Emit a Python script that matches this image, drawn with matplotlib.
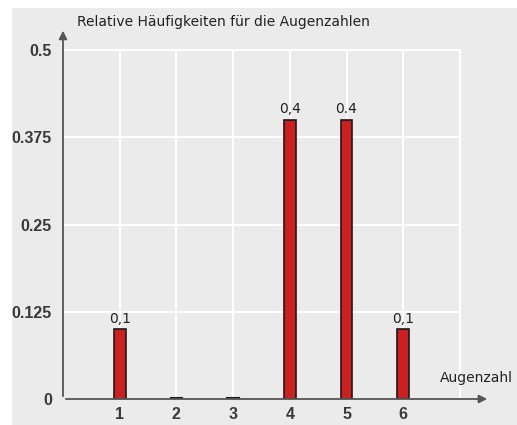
import matplotlib.pyplot as plt
from matplotlib.patches import Rectangle

# Daten
augenzahlen = [1, 2, 3, 4, 5, 6]
haeufigkeiten = [0.1, 0.0, 0.0, 0.4, 0.4, 0.1]
bar_labels = ['0,1', '', '', '0,4', '0.4', '0,1']
y_ticks = [0, 0.125, 0.25, 0.375, 0.5]
y_ticklabels = ['0', '0.125', '0.25', '0.375', '0.5']

plt.rcParams['font.family'] = ['DejaVu Sans']

fig = plt.figure(figsize=(5.17, 4.25), dpi=100)
fig.patch.set_facecolor('white')
# grauer Hintergrund
fig.patches.append(Rectangle((12 / 517, 0), 1, 1 - 8 / 425, transform=fig.transFigure,
                             facecolor='#ebebeb', edgecolor='none', zorder=-5))

ax = fig.add_axes([63 / 517, 1 - 399 / 425, 427 / 517, 369 / 425])
ax.set_facecolor('none')
ax.set_xlim(0, 7.53)
ax.set_ylim(0, 0.529)

# Gitter
for x in range(1, 8):
    ax.plot([x, x], [0, 0.5], color='white', lw=1.5, zorder=1)
for y in y_ticks[1:]:
    ax.plot([0, 7], [y, y], color='white', lw=1.5, zorder=1)

# Balken
ax.bar(augenzahlen, haeufigkeiten, width=0.21, color='#cc1f1f', edgecolor='#1a1a1a',
       linewidth=1.2, zorder=3)
for x, h, lab in zip(augenzahlen, haeufigkeiten, bar_labels):
    if h == 0:
        ax.plot([x - 0.1, x + 0.1], [0.001, 0.001], color='#1a1a1a', lw=1.5, zorder=3)
    if lab:
        ax.text(x, h + 0.005, lab, ha='center', va='bottom', fontsize=10, color='#222222')

# Achsen mit Pfeilen
ax.annotate('', xy=(7.53, 0), xytext=(0, 0),
            arrowprops=dict(arrowstyle='-|>', color='#555555', lw=1.3, mutation_scale=12),
            annotation_clip=False, zorder=4)
ax.annotate('', xy=(0, 0.532), xytext=(0, 0),
            arrowprops=dict(arrowstyle='-|>', color='#555555', lw=1.3, mutation_scale=12),
            annotation_clip=False, zorder=4)

for s in ax.spines.values():
    s.set_visible(False)

tick_font = dict(family='Liberation Sans', size=11.5, weight='bold')
ax.set_xticks(augenzahlen)
ax.set_xticklabels([str(a) for a in augenzahlen], fontdict=tick_font, color='#3a3a3a')
ax.set_yticks(y_ticks)
ax.set_yticklabels(y_ticklabels, fontdict=tick_font, color='#3a3a3a')
ax.tick_params(axis='y', length=0, pad=8)
ax.tick_params(axis='x', length=0, pad=6)

ax.text(0.25, 0.540, 'Relative Häufigkeiten für die Augenzahlen', fontsize=10,
        color='#222222', va='center', ha='left')
ax.text(6.65, 0.030, 'Augenzahl', fontsize=10, color='#222222', va='center', ha='left')

fig.savefig('out.png', dpi=100)
